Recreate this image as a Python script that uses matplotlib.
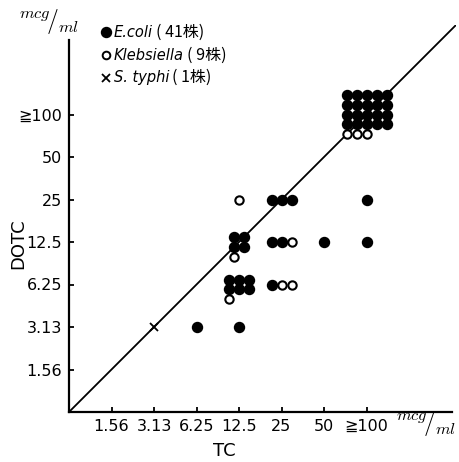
import matplotlib
matplotlib.use("Agg")
import matplotlib.pyplot as plt
import numpy as np
from matplotlib.offsetbox import AnchoredOffsetbox, HPacker, VPacker, TextArea, DrawingArea
from matplotlib.lines import Line2D

plt.rcParams['mathtext.fontset'] = 'cm'

# ---------------- data ----------------
tick_labels = ["1.56", "3.13", "6.25", "12.5", "25", "50", "≧100"]
# MIC categories as index on the ordinal log2 scale (1 = 1.56 ... 7 = ≧100)
cell_tc = [2, 3, 4, 4, 4, 4, 5, 5, 5, 6, 7, 7, 7]
cell_dotc = [2, 2, 2, 3, 4, 5, 5, 4, 3, 4, 5, 4, 7]
ecoli_n = [0, 1, 1, 6, 4, 0, 3, 2, 1, 1, 1, 1, 20]
kleb_n = [0, 0, 0, 1, 1, 1, 0, 1, 2, 0, 0, 0, 3]
typhi_n = [1, 0, 0, 0, 0, 0, 0, 0, 0, 0, 0, 0, 0]
grid_cols = [1, 1, 1, 3, 2, 1, 3, 3, 3, 1, 1, 1, 5]
center_all_rows = [0, 0, 0, 0, 0, 0, 0, 0, 0, 0, 0, 0, 1]

legend_names = ["E.coli", "Klebsiella", "S. typhi"]
legend_counts = ["( 41株)", "( 9株)", "( 1株)"]

# ---------------- figure ----------------
W, H = 459, 462
fig = plt.figure(figsize=(W / 100, H / 100), dpi=100)
unit = 42.5  # px per category step
lim = 9.1
ax = fig.add_axes([69 / W, (H - 412) / H, lim * unit / W, lim * unit / H])
ax.set_xlim(0, lim)
ax.set_ylim(0, lim)

for s in ["top", "right"]:
    ax.spines[s].set_visible(False)
ax.spines["left"].set_linewidth(1.6)
ax.spines["bottom"].set_linewidth(1.6)
ax.spines["left"].set_bounds(0, 8.75)
ax.spines["bottom"].set_bounds(0, 9.0)

tickfont = ["DejaVu Sans"]
pos = np.arange(1, len(tick_labels) + 1)
ax.set_xticks(pos)
ax.set_yticks(pos)
ax.set_xticklabels(tick_labels, family=tickfont, fontsize=11.5)
ax.set_yticklabels(tick_labels, family=tickfont, fontsize=11.5)
ax.tick_params(direction="in", length=3.5, width=1.3, pad=5)

fig.text(224 / W, 1 - 451 / H, "TC", family=tickfont, fontsize=13, ha="center", va="center")
fig.text(18 / W, 1 - 244 / H, "DOTC", family=tickfont, fontsize=13, ha="center",
         va="center", rotation=90)

# diagonal y = x
ax.axline((0, 0), slope=1, color="black", lw=1.3, zorder=1)

# ---------------- points ----------------
dx = 10 / unit
dy = 9.8 / unit
for tcv, dv, ne, nk, nt, nc, ca in zip(cell_tc, cell_dotc, ecoli_n, kleb_n, typhi_n,
                                       grid_cols, center_all_rows):
    kinds = ["e"] * ne + ["k"] * nk + ["t"] * nt
    if ca:
        nrows = int(np.ceil(len(kinds) / nc))
    else:
        nrows = int(np.ceil(ne / nc)) if ne > 0 else 1
    ncols_used = min(nc, len(kinds))
    for i, k in enumerate(kinds):
        r, c = divmod(i, nc)
        x = tcv + (c - (ncols_used - 1) / 2) * dx
        y = dv - (r - (nrows - 1) / 2) * dy
        if k == "e":
            ax.plot(x, y, "o", ms=7.2, mfc="black", mec="black", zorder=3)
        elif k == "k":
            ax.plot(x, y, "o", ms=6.0, mfc="white", mec="black", mew=1.5, zorder=3)
        else:
            ax.plot(x, y, "x", ms=5.5, color="black", mew=1.3, zorder=3)

# ---------------- units ----------------
unit_txt = r"$^{mcg}\!/_{ml}$"
fig.text(49 / W, 1 - 22 / H, unit_txt, fontsize=17, ha="center", va="center")
fig.text(426 / W, 1 - 423 / H, unit_txt, fontsize=17, ha="center", va="center")

# ---------------- legend ----------------
def marker_area(marker, filled):
    da = DrawingArea(8, 8, 0, 0)
    if marker == "x":
        ln = Line2D([4], [4], marker="x", ms=6, color="black", mew=1.3, ls="")
    elif filled:
        ln = Line2D([4], [4], marker="o", ms=7.2, mfc="black", mec="black", ls="")
    else:
        ln = Line2D([4], [4], marker="o", ms=5.5, mfc="white", mec="black", mew=1.4, ls="")
    da.add_artist(ln)
    return da

markers = [("o", True), ("o", False), ("x", False)]
rows = []
for (m, f), name, cnt in zip(markers, legend_names, legend_counts):
    t1 = TextArea(name, textprops=dict(style="italic", fontsize=10.5, family=["DejaVu Sans"]))
    t2 = TextArea(cnt, textprops=dict(fontsize=11.5,
                                      family=["Noto Sans CJK JP", "DejaVu Sans"]))
    rows.append(HPacker(children=[marker_area(m, f), t1, t2], sep=2, pad=0, align="center"))
box = VPacker(children=rows, sep=4, pad=0, align="left")
anch = AnchoredOffsetbox(loc="upper left", child=box, pad=0, borderpad=0, frameon=False,
                         bbox_to_anchor=(100 / W, 1 - 24 / H), bbox_transform=fig.transFigure)
fig.add_artist(anch)

fig.savefig("out.png", dpi=100)
